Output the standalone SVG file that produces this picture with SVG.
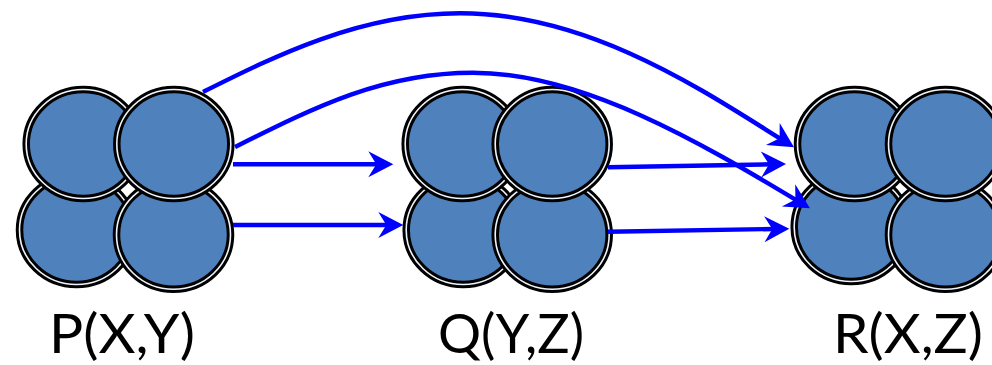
<svg xmlns="http://www.w3.org/2000/svg" xmlns:xlink="http://www.w3.org/1999/xlink" width="992" height="365" viewBox="0 0 992 365">
<style>
.ring{fill:#4F81BD;stroke:#000;stroke-width:7.5}
.gap{fill:none;stroke:#eef4fb;stroke-width:1.6}
.conn{fill:none;stroke:#0000FF;stroke-width:4.4;marker-end:url(#ah)}
.lbl{font-family:Lato,"Open Sans","Liberation Sans",sans-serif;font-size:55px;fill:#000}
</style>
<defs>
<marker id="ah" markerUnits="userSpaceOnUse" viewBox="-27 -14 28 28" markerWidth="28" markerHeight="28" refX="-15" refY="0" orient="auto">
<path d="M0,0 L-25,-13 L-17,0 L-25,13 Z" fill="#0000FF"/>
</marker>
<g id="ball">
<ellipse cx="0" cy="0" rx="57" ry="54.5" class="ring"/>
<ellipse cx="0" cy="0" rx="57" ry="54.5" class="gap"/>
</g>
</defs>
<rect width="992" height="365" fill="#fff"/>
<g id="P">
<use xlink:href="#ball" x="76.5" y="230"/>
<use xlink:href="#ball" x="173.5" y="234.7"/>
<use xlink:href="#ball" x="83.2" y="144"/>
<use xlink:href="#ball" x="173.8" y="144"/>
<text class="lbl" x="49" y="353" textLength="146" lengthAdjust="spacingAndGlyphs">P(X,Y)</text>
</g>
<g id="Q">
<use xlink:href="#ball" x="463.2" y="230"/>
<use xlink:href="#ball" x="552.2" y="234.7"/>
<use xlink:href="#ball" x="462.2" y="144"/>
<use xlink:href="#ball" x="552.2" y="144"/>
<text class="lbl" x="438" y="353" textLength="146" lengthAdjust="spacingAndGlyphs">Q(Y,Z)</text>
</g>
<g id="R">
<use xlink:href="#ball" x="851.2" y="227"/>
<use xlink:href="#ball" x="945.5" y="234.7"/>
<use xlink:href="#ball" x="854.5" y="144"/>
<use xlink:href="#ball" x="945.5" y="144"/>
<text class="lbl" x="833" y="353" textLength="150" lengthAdjust="spacingAndGlyphs">R(X,Z)</text>
</g>
<g id="connectors">
<path class="conn" d="M233,164.3 L378.3,164.3"/>
<path class="conn" d="M233,225 L388.3,225"/>
<path class="conn" d="M608,167.3 L771,164.3"/>
<path class="conn" d="M608,231.7 L774.3,229"/>
<path class="conn" d="M203,92 C273,57 360,13.3 460,13.3 C590,13.3 704.8,91.6 781.3,139.3"/>
<path class="conn" d="M235,147 C315,107 383,72.7 473,72.7 C583,72.7 702.8,144 797.1,200.6"/>
</g>
</svg>
